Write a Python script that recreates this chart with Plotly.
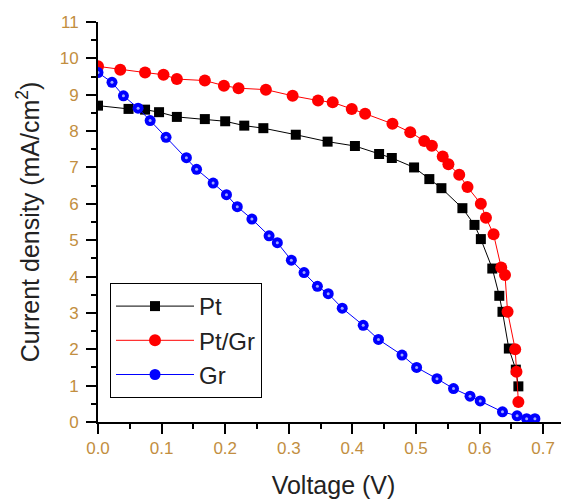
import plotly.graph_objects as go

# ---- data ----
pt_v = [0.000, 0.048, 0.074, 0.096, 0.124, 0.168, 0.200, 0.230, 0.260, 0.311, 0.361,
        0.404, 0.442, 0.462, 0.497, 0.521, 0.540, 0.573, 0.592, 0.602, 0.620, 0.631,
        0.636, 0.646, 0.657, 0.661]
pt_j = [8.70, 8.61, 8.59, 8.52, 8.39, 8.33, 8.27, 8.15, 8.08, 7.90, 7.71,
        7.59, 7.37, 7.26, 7.00, 6.68, 6.43, 5.88, 5.42, 5.03, 4.22, 3.47,
        3.03, 2.02, 1.44, 0.98]

ptgr_v = [0.000, 0.035, 0.074, 0.103, 0.124, 0.168, 0.198, 0.221, 0.264, 0.306, 0.346,
          0.369, 0.399, 0.420, 0.463, 0.491, 0.513, 0.525, 0.542, 0.551, 0.568, 0.581,
          0.602, 0.610, 0.622, 0.634, 0.640, 0.644, 0.656, 0.658, 0.661]
ptgr_j = [9.78, 9.69, 9.61, 9.55, 9.43, 9.39, 9.25, 9.18, 9.14, 8.97, 8.84,
          8.79, 8.61, 8.48, 8.20, 7.97, 7.73, 7.60, 7.30, 7.09, 6.80, 6.46,
          6.00, 5.62, 5.16, 4.25, 4.04, 3.03, 2.00, 1.38, 0.55]

gr_v = [0.000, 0.022, 0.040, 0.063, 0.082, 0.107, 0.139, 0.155, 0.181, 0.202, 0.219,
        0.242, 0.269, 0.282, 0.304, 0.324, 0.345, 0.362, 0.384, 0.417, 0.441, 0.478,
        0.501, 0.533, 0.559, 0.585, 0.601, 0.636, 0.659, 0.674, 0.687]
gr_j = [9.61, 9.34, 8.97, 8.63, 8.29, 7.83, 7.27, 6.95, 6.57, 6.25, 5.92,
        5.58, 5.12, 4.93, 4.45, 4.11, 3.73, 3.53, 3.13, 2.66, 2.27, 1.84,
        1.50, 1.19, 0.92, 0.71, 0.58, 0.28, 0.17, 0.09, 0.09]

x_ticks = [0.0, 0.1, 0.2, 0.3, 0.4, 0.5, 0.6, 0.7]
x_tick_labels = ["0.0", "0.1", "0.2", "0.3", "0.4", "0.5", "0.6", "0.7"]
y_ticks = list(range(0, 12))
y_tick_labels = [str(v) for v in y_ticks]

FONT = "Arial, Liberation Sans, sans-serif"
TICK_COLOR = "#c28e40"

fig = go.Figure()
fig.add_trace(go.Scatter(x=pt_v, y=pt_j, name="Pt", mode="lines+markers",
                         line=dict(color="black", width=1),
                         marker=dict(symbol="square", size=10, color="black")))
fig.add_trace(go.Scatter(x=ptgr_v, y=ptgr_j, name="Pt/Gr", mode="lines+markers",
                         line=dict(color="#ff0000", width=1),
                         marker=dict(symbol="circle", size=12, color="#ff0000")))
fig.add_trace(go.Scatter(x=gr_v, y=gr_j, name="Gr", mode="lines+markers",
                         line=dict(color="#0000ff", width=1),
                         marker=dict(symbol="circle", size=11, color="#0000ff")))
fig.add_trace(go.Scatter(x=gr_v, y=gr_j, mode="markers", showlegend=False,
                         hoverinfo="skip",
                         marker=dict(symbol="circle", size=3, color="#9fa8ff")))

axis_common = dict(
    showline=True, linecolor="black", linewidth=2, mirror=False,
    ticks="outside", ticklen=10, tickwidth=2, tickcolor="black",
    showgrid=False, zeroline=False,
    tickfont=dict(family=FONT, size=17, color=TICK_COLOR),
)

fig.update_xaxes(range=[0, 0.7406], tickvals=x_ticks, ticktext=x_tick_labels,
                 minor=dict(dtick=0.05, ticks="outside", ticklen=5, tickwidth=2, tickcolor="black"),
                 title=dict(text="Voltage (V)", font=dict(family=FONT, size=25, color="#222"),
                            standoff=21),
                 **axis_common)
fig.update_yaxes(range=[0, 11], tickvals=y_ticks, ticktext=y_tick_labels,
                 minor=dict(dtick=0.5, ticks="outside", ticklen=5, tickwidth=2, tickcolor="black"),
                 title=dict(text="Current density (mA/cm<sup>2</sup>)",
                            font=dict(family=FONT, size=25, color="#222"), standoff=13),
                 ticklabelstandoff=4,
                 **axis_common)

# the page body has an 8px margin, so the figure is shifted by 8px;
# size and margins compensate for that
fig.update_layout(
    width=561, height=491,
    margin=dict(l=90, r=0, t=14, b=77, autoexpand=False),
    paper_bgcolor="white", plot_bgcolor="white",
    showlegend=True,
    legend=dict(x=0.0255, y=0.3475, xanchor="left", yanchor="top",
                bgcolor="white", bordercolor="black", borderwidth=1,
                font=dict(family=FONT, size=24, color="#222"),
                itemwidth=78, tracegroupgap=0),
)

fig.write_html("out.html")
